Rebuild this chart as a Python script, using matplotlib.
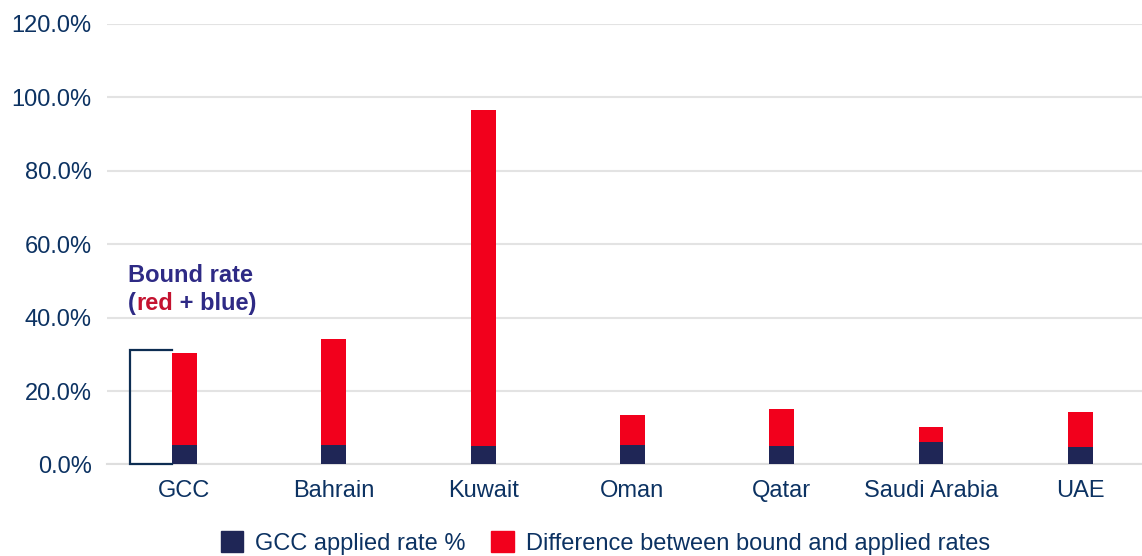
import matplotlib.pyplot as plt
from matplotlib.patches import Patch

countries = ['GCC', 'Bahrain', 'Kuwait', 'Oman', 'Qatar', 'Saudi Arabia', 'UAE']
applied = [5.4, 5.4, 5.1, 5.4, 5.0, 6.0, 4.7]
bound = [30.4, 34.1, 96.5, 13.6, 15.2, 10.2, 14.3]
yticks = [0, 20, 40, 60, 80, 100, 120]

navy_text = '#0c3262'
bar_blue = '#1f2656'
bar_red = '#f2001c'
indigo = '#2e2a85'
text_red = '#c4122f'

plt.rcParams['font.family'] = ['Liberation Sans', 'DejaVu Sans']

fig = plt.figure(figsize=(11.42, 5.56), dpi=100)
ax = fig.add_axes([0.0937, 0.1646, 0.9063, 0.7924])

x = list(range(len(countries)))
diff = [b - a for a, b in zip(applied, bound)]
w = 0.167
ax.bar(x, applied, width=w, color=bar_blue, zorder=3)
ax.bar(x, diff, bottom=applied, width=w, color=bar_red, zorder=3)

# bracket next to the GCC bar
bx = -w / 2
ax.plot([bx, -0.365, -0.365, bx], [bound[0] + 0.8, bound[0] + 0.8, 0, 0],
        color='#0d2d52', lw=1.6, zorder=4, solid_joinstyle='miter', clip_on=False)

ax.set_xlim(-0.519, 6.413)
ax.set_ylim(0, 120)
ax.set_yticks(yticks)
ax.set_yticklabels([f'{v:.1f}%' for v in yticks])
ax.set_xticks(x)
ax.set_xticklabels(countries)
ax.tick_params(axis='both', length=0, labelsize=17, labelcolor=navy_text)
ax.tick_params(axis='y', pad=11)
ax.tick_params(axis='x', pad=11)
ax.yaxis.grid(True, color='#e3e3e3', lw=1.5, zorder=0)
for s in ['top', 'right', 'left']:
    ax.spines[s].set_visible(False)
ax.spines['bottom'].set_color('#dedede')
ax.spines['bottom'].set_linewidth(1.5)

# annotation text
kw = dict(fontsize=17, fontweight='bold')
ax.text(-0.378, 49.7, 'Bound rate', color=indigo, va='baseline', ha='left', **kw)
t1 = ax.text(-0.378, 42.1, '(', color=indigo, va='baseline', ha='left', **kw)
t2 = ax.annotate('red', xy=(1, 0), xycoords=t1, color=text_red, va='bottom', ha='left', **kw)
ax.annotate(' + blue)', xy=(1, 0), xycoords=t2, color=indigo, va='bottom', ha='left', **kw)

handles = [Patch(color=bar_blue, label='GCC applied rate %'),
           Patch(color=bar_red, label='Difference between bound and applied rates')]
fig.legend(handles=handles, loc='lower center', bbox_to_anchor=(0.53, -0.036), ncol=2,
           frameon=False, fontsize=17, handlelength=0.95, handleheight=0.95,
           handletextpad=0.5, columnspacing=1.1, labelcolor=navy_text)

fig.savefig('out.png', dpi=100)
